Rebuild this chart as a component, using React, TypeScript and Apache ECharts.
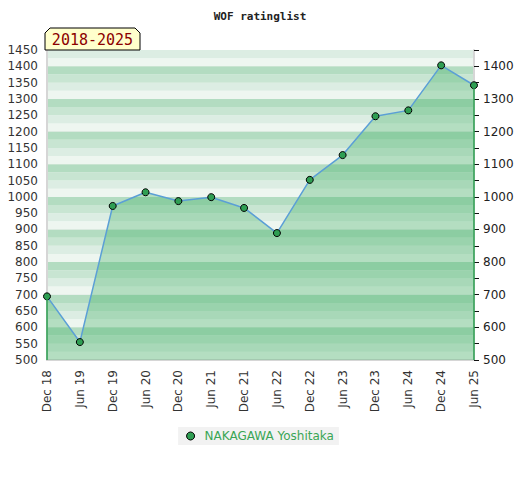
import React, { useEffect, useRef } from "react";
import * as echarts from "echarts";

const categories = ["Dec 18", "Jun 19", "Dec 19", "Jun 20", "Dec 20", "Jun 21", "Dec 21", "Jun 22", "Dec 22", "Jun 23", "Dec 23", "Jun 24", "Dec 24", "Jun 25"];
const ratings = [695, 555, 972, 1014, 987, 999, 966, 889, 1052, 1128, 1247, 1265, 1403, 1342];
const playerName = "NAKAGAWA Yoshitaka";
const chartTitle = "WOF ratinglist";
const periodLabel = "2018-2025";
const yMin = 500;
const yMax = 1450;
const bandColors = ["#eef6f0", "#dcede3", "#c8e5d2", "#b3dcc1"];

export default function App() {
  const ref = useRef<HTMLDivElement>(null);
  useEffect(() => {
    if (!ref.current) return;
    const chart = echarts.init(ref.current, null, { renderer: "svg" });
    const lastIdx = categories.length - 1;
    chart.setOption({
      animation: false,
      backgroundColor: "#ffffff",
      title: {
        text: chartTitle,
        left: "center",
        top: 6,
        textStyle: { fontFamily: "DejaVu Sans Mono", fontSize: 11, fontWeight: "bold", color: "#222" },
      },
      grid: { left: 47, right: 46, top: 50, bottom: 120, containLabel: false },
      legend: {
        bottom: 35,
        left: "center",
        backgroundColor: "#f2f2f2",
        padding: [3, 5, 3, 8],
        itemWidth: 8,
        itemHeight: 8,
        icon: "circle",
        itemStyle: { color: "#2f9e53", borderColor: "#000", borderWidth: 1 },
        textStyle: { color: "#3aa655", fontSize: 12, fontFamily: "DejaVu Sans", padding: [0, 0, 0, 5] },
        data: [playerName],
      },
      xAxis: {
        type: "category",
        data: categories,
        boundaryGap: false,
        axisLine: { lineStyle: { color: "#d6d6d6", width: 2 } },
        axisTick: { show: false },
        axisLabel: { rotate: 90, color: "#333", fontSize: 12, fontFamily: "DejaVu Sans", interval: 0, margin: 10 },
        splitLine: { show: false },
      },
      yAxis: [
        {
          type: "value",
          position: "left",
          min: yMin,
          max: yMax,
          interval: 50,
          axisLine: { show: true, lineStyle: { color: "#d6d6d6", width: 2 } },
          axisTick: { show: false },
          axisLabel: {
            color: "#333",
            fontSize: 12,
            fontFamily: "DejaVu Sans",
            margin: 9,
            formatter: (v: number) => String(v),
          },
          splitLine: { show: false },
        },
        {
          type: "value",
          position: "right",
          min: yMin,
          max: yMax,
          interval: 100,
          axisLine: { show: true, lineStyle: { color: "#d6d6d6", width: 2 } },
          axisTick: { show: true, length: 5, lineStyle: { color: "#111" } },
          minorTick: { show: true, splitNumber: 2, length: 5, lineStyle: { color: "#111" } },
          axisLabel: {
            color: "#222",
            fontSize: 12,
            fontFamily: "DejaVu Sans",
            margin: 9,
            formatter: (v: number) => (v > 1400 ? "" : String(v)),
          },
          splitLine: { show: true, lineStyle: { color: "#d9e2dc", width: 1 } },
        },
        {
          type: "value",
          position: "left",
          min: yMin,
          max: yMax,
          interval: 25,
          axisLine: { show: false },
          axisTick: { show: false },
          axisLabel: { show: false },
          splitLine: { show: false },
          splitArea: { show: true, areaStyle: { color: bandColors } },
        },
      ],
      series: [
        {
          name: playerName,
          type: "line",
          yAxisIndex: 0,
          data: ratings,
          symbol: "circle",
          symbolSize: 7,
          itemStyle: { color: "#2f9e53", borderColor: "#000", borderWidth: 1 },
          lineStyle: { color: "#5b9fd6", width: 1.5 },
          areaStyle: { color: "rgba(65,175,102,0.48)", origin: "start" },
          z: 3,
          markLine: {
            silent: true,
            symbol: ["none", "none"],
            label: { show: false },
            lineStyle: { color: "#2ea052", width: 1.5, type: "solid" },
            data: [
              [
                { coord: [categories[0], ratings[0]] },
                { coord: [categories[0], yMin] },
              ],
              [
                { coord: [categories[lastIdx], ratings[lastIdx]] },
                { coord: [categories[lastIdx], yMin] },
              ],
            ],
          },
        },
      ],
      graphic: [
        {
          type: "polygon",
          shape: { points: [[45, 50], [45, 33], [50, 28], [135, 28], [140, 33], [140, 50]] },
          style: { fill: "#ffffcc", stroke: "#000", lineWidth: 1 },
          z: 10,
        },
        {
          type: "text",
          x: 92.5,
          y: 40,
          style: {
            text: periodLabel,
            fill: "#8b0000",
            font: "15px 'DejaVu Sans Mono'",
            textAlign: "center",
            textVerticalAlign: "middle",
          },
          z: 11,
        },
      ],
    });
    return () => chart.dispose();
  }, []);
  return <div ref={ref} style={{ position: "fixed", left: 0, top: 0, width: 520, height: 480 }} />;
}
